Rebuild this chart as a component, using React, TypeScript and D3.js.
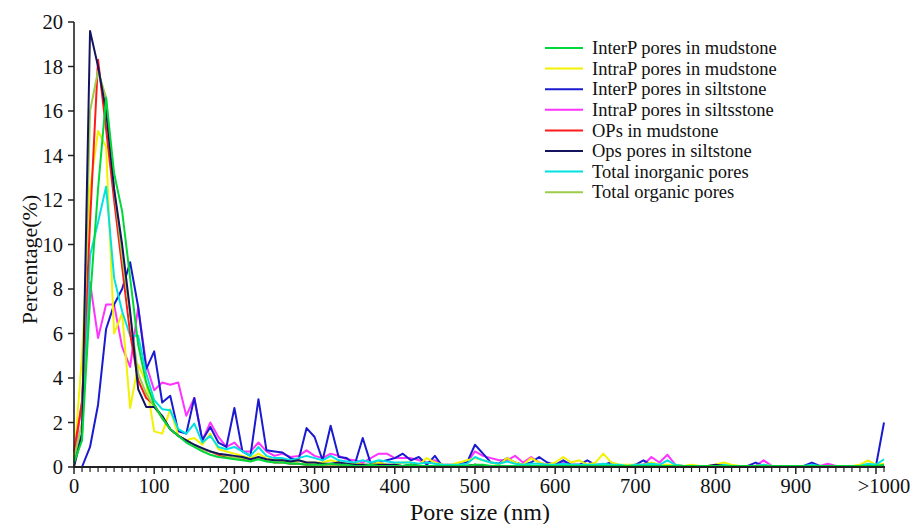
import React from "react";
import * as d3 from "d3";

// Pore size categories (nm): 0..1000 every 10 nm, plus ">1000" placed at 1010
const poreSizes: number[] = d3.range(0, 1011, 10);

const xMajorTicks = [0, 100, 200, 300, 400, 500, 600, 700, 800, 900, 1000];
const xTickLabelValues = [0, 100, 200, 300, 400, 500, 600, 700, 800, 900, 1010];
const xTickLabels = ["0", "100", "200", "300", "400", "500", "600", "700", "800", "900", ">1000"];
const yTicks = [0, 2, 4, 6, 8, 10, 12, 14, 16, 18, 20];

const seriesNames = [
  "InterP pores in mudstone",
  "IntraP pores in mudstone",
  "InterP pores in siltstone",
  "IntraP pores in siltsstone",
  "OPs in mudstone",
  "Ops pores in siltstone",
  "Total inorganic pores",
  "Total organic pores",
];
const seriesColors = ["#00d83a", "#f2f200", "#1a1ad0", "#ff33ff", "#ff1a1a", "#14145e", "#00e2e2", "#9ccc4a"];

const interPMudstone = [
  0.2, 1.2, 7.5, 12.5, 16.6, 13.2, 11.5, 8.5, 5.5, 3.8,
  2.8, 2.2, 1.7, 1.4, 1.1, 0.9, 0.7, 0.55, 0.45, 0.4,
  0.35, 0.3, 0.25, 0.35, 0.25, 0.2, 0.2, 0.15, 0.15, 0.1,
  0.1, 0.1, 0.15, 0.1, 0.1, 0.05, 0.05, 0.1, 0.05, 0.05,
  0.05, 0.05, 0.1, 0.05, 0.05, 0.05, 0.05, 0.05, 0.05, 0.05,
  0.1, 0.1, 0.05, 0.05, 0.05, 0.05, 0.05, 0.05, 0.05, 0.05,
  0.05, 0.05, 0.05, 0.05, 0.05, 0.05, 0.05, 0.05, 0.05, 0.05,
  0.05, 0.05, 0.05, 0.05, 0.05, 0.05, 0.05, 0.05, 0.05, 0.05,
  0.05, 0.05, 0.05, 0.05, 0.05, 0.05, 0.05, 0.05, 0.05, 0.05,
  0.05, 0.05, 0.05, 0.05, 0.05, 0.05, 0.05, 0.05, 0.05, 0.05,
  0.05, 0.1,
];
const intraPMudstone = [
  0.3, 5.0, 12.5, 15.1, 14.4, 6.0, 6.9, 2.65, 4.6, 3.8,
  1.6, 1.5, 2.6, 1.4, 1.2, 1.3, 1.0, 1.5, 0.8, 0.7,
  0.6, 0.5, 0.4, 0.6, 0.4, 0.3, 0.3, 0.2, 0.3, 0.2,
  0.2, 0.2, 0.3, 0.2, 0.1, 0.2, 0.1, 0.1, 0.2, 0.1,
  0.1, 0.2, 0.2, 0.1, 0.4, 0.2, 0.1, 0.1, 0.2, 0.3,
  0.4, 0.3, 0.2, 0.1, 0.4, 0.2, 0.1, 0.4, 0.2, 0.1,
  0.2, 0.45, 0.2, 0.3, 0.1, 0.2, 0.6, 0.2, 0.1, 0.1,
  0.1, 0.1, 0.2, 0.1, 0.1, 0.1, 0.05, 0.1, 0.05, 0.05,
  0.1, 0.2, 0.1, 0.05, 0.05, 0.05, 0.1, 0.05, 0.05, 0.05,
  0.05, 0.05, 0.05, 0.05, 0.05, 0.05, 0.05, 0.05, 0.1, 0.3,
  0.1, 0.15,
];
const interPSiltstone = [
  0, 0, 0.9, 2.8, 6.2, 7.3, 8.0, 9.2, 7.2, 4.4,
  5.2, 2.9, 3.2, 1.6, 1.5, 3.1, 1.2, 1.8, 1.1, 0.9,
  2.65, 0.7, 0.5, 3.05, 0.75, 0.7, 0.65, 0.4, 0.3, 1.75,
  1.35, 0.3, 1.85, 0.45, 0.4, 0.1, 1.3, 0.15, 0.2, 0.3,
  0.4, 0.6, 0.3, 0.45, 0.1, 0.5, 0.0, 0.05, 0.1, 0.2,
  1.0, 0.6, 0.2, 0.15, 0.4, 0.2, 0.1, 0.2, 0.45, 0.2,
  0.1, 0.3, 0.1, 0.1, 0.3, 0.1, 0.1, 0.2, 0.05, 0.05,
  0.1, 0.3, 0.1, 0.05, 0.05, 0.05, 0.05, 0.05, 0.05, 0.05,
  0.05, 0.05, 0.05, 0.05, 0.05, 0.2, 0.05, 0.05, 0.05, 0.05,
  0.05, 0.05, 0.2, 0.05, 0.05, 0.05, 0.05, 0.05, 0.05, 0.05,
  0.05, 2.0,
];
const intraPSiltstone = [
  0.3, 3.0, 8.3, 5.8, 7.3, 7.3, 5.4, 4.5, 7.2, 4.6,
  3.45, 3.8, 3.7, 3.8, 2.3, 3.1, 1.2, 2.0, 1.35, 0.9,
  1.1, 0.7, 0.7, 1.1, 0.7, 0.5, 0.6, 0.45, 0.5, 0.75,
  0.5, 0.4, 0.6, 0.5, 0.35, 0.3, 0.2, 0.4, 0.6, 0.6,
  0.4, 0.4, 0.4, 0.3, 0.2, 0.3, 0.1, 0.1, 0.1, 0.2,
  0.7, 0.5, 0.4, 0.3, 0.3, 0.5, 0.2, 0.45, 0.2, 0.1,
  0.1, 0.2, 0.1, 0.1, 0.1, 0.05, 0.1, 0.1, 0.05, 0.05,
  0.1, 0.1, 0.45, 0.2, 0.55, 0.1, 0.05, 0.05, 0.05, 0.05,
  0.05, 0.05, 0.05, 0.05, 0.05, 0.05, 0.3, 0.05, 0.05, 0.05,
  0.05, 0.05, 0.05, 0.05, 0.15, 0.05, 0.05, 0.05, 0.05, 0.1,
  0.1, 0.1,
];
const opsMudstone = [
  0.7, 2.9, 11.0, 18.3, 15.2, 12.0, 9.0, 6.0, 3.9, 3.1,
  2.8, 2.2, 1.7, 1.4, 1.2, 1.0, 0.8, 0.7, 0.55, 0.45,
  0.4, 0.35, 0.3, 0.4, 0.3, 0.2, 0.2, 0.15, 0.15, 0.1,
  0.1, 0.1, 0.1, 0.1, 0.05, 0.05, 0.1, 0.05, 0.05, 0.05,
  0.05, 0.05, 0.05, 0.05, 0.05, 0.05, 0.05, 0.05, 0.05, 0.05,
  0.1, 0.05, 0.05, 0.05, 0.05, 0.05, 0.05, 0.05, 0.05, 0.05,
  0.05, 0.05, 0.05, 0.05, 0.05, 0.05, 0.05, 0.05, 0.05, 0.05,
  0.05, 0.05, 0.05, 0.05, 0.05, 0.05, 0.05, 0.05, 0.05, 0.05,
  0.05, 0.05, 0.05, 0.05, 0.05, 0.05, 0.05, 0.05, 0.05, 0.05,
  0.05, 0.05, 0.05, 0.05, 0.05, 0.05, 0.05, 0.05, 0.05, 0.05,
  0.05, 0.05,
];
const opsSiltstone = [
  0, 1.5, 19.6, 18.0, 16.0, 12.5, 10.0, 7.0, 3.5, 2.7,
  2.7, 2.3, 1.7, 1.4, 1.2, 1.0, 0.85, 0.7, 0.6, 0.55,
  0.5, 0.45, 0.35, 0.45, 0.35, 0.3, 0.3, 0.25, 0.3, 0.2,
  0.2, 0.15, 0.15, 0.2, 0.15, 0.1, 0.1, 0.1, 0.1, 0.1,
  0.1, 0.05, 0.1, 0.05, 0.05, 0.05, 0.05, 0.05, 0.05, 0.05,
  0.1, 0.05, 0.05, 0.05, 0.05, 0.05, 0.05, 0.05, 0.05, 0.05,
  0.05, 0.05, 0.05, 0.05, 0.05, 0.05, 0.05, 0.05, 0.05, 0.05,
  0.05, 0.05, 0.05, 0.05, 0.05, 0.05, 0.05, 0.05, 0.05, 0.05,
  0.1, 0.05, 0.05, 0.05, 0.05, 0.05, 0.05, 0.05, 0.05, 0.05,
  0.05, 0.05, 0.05, 0.05, 0.05, 0.05, 0.05, 0.05, 0.05, 0.05,
  0.05, 0.05,
];
const totalInorganic = [
  0.2, 1.5, 9.5, 11.0, 12.6, 8.5, 7.0, 5.9, 5.9, 4.2,
  3.0, 2.6, 2.55, 1.7, 1.5, 1.95, 1.1, 1.4, 0.9, 0.8,
  0.9, 0.7, 0.5, 0.9, 0.5, 0.4, 0.4, 0.3, 0.4, 0.5,
  0.4, 0.3, 0.5, 0.3, 0.25, 0.2, 0.3, 0.2, 0.3, 0.25,
  0.2, 0.2, 0.2, 0.15, 0.2, 0.15, 0.1, 0.1, 0.1, 0.15,
  0.45, 0.3, 0.2, 0.15, 0.25, 0.15, 0.1, 0.15, 0.15, 0.1,
  0.1, 0.15, 0.1, 0.1, 0.1, 0.1, 0.15, 0.1, 0.1, 0.05,
  0.1, 0.1, 0.15, 0.1, 0.3, 0.1, 0.05, 0.05, 0.05, 0.05,
  0.05, 0.1, 0.05, 0.05, 0.05, 0.05, 0.1, 0.05, 0.05, 0.05,
  0.05, 0.05, 0.1, 0.05, 0.05, 0.05, 0.05, 0.05, 0.05, 0.15,
  0.1, 0.35,
];
const totalOrganic = [
  0.3, 2.0, 16.0, 17.8, 16.6, 12.5, 9.5, 6.8, 4.2, 3.3,
  2.7, 2.2, 1.7, 1.4, 1.2, 1.0, 0.8, 0.7, 0.6, 0.5,
  0.4, 0.4, 0.3, 0.4, 0.3, 0.25, 0.2, 0.2, 0.15, 0.15,
  0.1, 0.1, 0.1, 0.1, 0.1, 0.05, 0.05, 0.05, 0.05, 0.05,
  0.05, 0.05, 0.05, 0.05, 0.05, 0.05, 0.05, 0.05, 0.05, 0.05,
  0.05, 0.05, 0.05, 0.05, 0.05, 0.05, 0.05, 0.05, 0.05, 0.05,
  0.05, 0.05, 0.05, 0.05, 0.05, 0.05, 0.05, 0.05, 0.05, 0.05,
  0.05, 0.05, 0.05, 0.05, 0.05, 0.05, 0.05, 0.05, 0.05, 0.05,
  0.05, 0.05, 0.05, 0.05, 0.05, 0.05, 0.05, 0.05, 0.05, 0.05,
  0.05, 0.05, 0.05, 0.05, 0.05, 0.05, 0.05, 0.05, 0.05, 0.05,
  0.05, 0.05,
];

const seriesValues = [
  interPMudstone,
  intraPMudstone,
  interPSiltstone,
  intraPSiltstone,
  opsMudstone,
  opsSiltstone,
  totalInorganic,
  totalOrganic,
];
// drawing order (index into series), last is on top
const drawOrder = [3, 2, 1, 6, 4, 7, 5, 0];

const FONT = "'Liberation Serif', 'Times New Roman', serif";

export default function App() {
  const W = 921;
  const H = 524;
  const x = d3.scaleLinear().domain([0, 1010]).range([74, 884]);
  const y = d3.scaleLinear().domain([0, 20]).range([467, 22]);
  const line = d3
    .line<number>()
    .x((_, i) => x(poreSizes[i]))
    .y((d) => y(d));

  const minorTicks = poreSizes.filter((v) => v % 100 !== 0);

  return (
    <svg
      width={W}
      height={H}
      style={{ position: "absolute", left: 0, top: 0, background: "#fff" }}
      fontFamily={FONT}
    >
      <rect width={W} height={H} fill="#fff" />
      {/* series */}
      {drawOrder.map((si) => (
        <path
          key={si}
          d={line(seriesValues[si]) || ""}
          fill="none"
          stroke={seriesColors[si]}
          strokeWidth={2}
          strokeLinejoin="round"
        />
      ))}

      {/* y axis */}
      <line x1={74} x2={74} y1={y(20)} y2={y(0)} stroke="#222" strokeWidth={1.6} />
      {yTicks.map((t) => (
        <g key={t}>
          <line x1={68} x2={74} y1={y(t)} y2={y(t)} stroke="#222" strokeWidth={1.5} />
          <text x={63} y={y(t)} dy="0.35em" textAnchor="end" fontSize={20.5} fill="#111">
            {t}
          </text>
        </g>
      ))}
      <text
        transform={`translate(37, ${(y(0) + y(20)) / 2 + 15}) rotate(-90)`}
        textAnchor="middle"
        fontSize={22}
        fill="#111"
      >
        Percentage(%)
      </text>

      {/* x axis */}
      <line x1={x(0) - 1} x2={x(1010) + 1} y1={467} y2={467} stroke="#222" strokeWidth={1.8} />
      {xMajorTicks.map((t) => (
        <line key={"M" + t} x1={x(t)} x2={x(t)} y1={467} y2={474} stroke="#222" strokeWidth={1.5} />
      ))}
      {minorTicks.map((t) => (
        <line key={"m" + t} x1={x(t)} x2={x(t)} y1={467} y2={472} stroke="#222" strokeWidth={1.2} />
      ))}
      {xTickLabelValues.map((t, i) => (
        <text key={"l" + t} x={x(t)} y={493} textAnchor="middle" fontSize={20.5} fill="#111">
          {xTickLabels[i]}
        </text>
      ))}
      <text x={480} y={520} textAnchor="middle" fontSize={24} fill="#111">
        Pore size (nm)
      </text>

      {/* legend */}
      {seriesNames.map((name, i) => (
        <g key={name} transform={`translate(0, ${48 + i * 20.6})`}>
          <line x1={545} x2={583} y1={0} y2={0} stroke={seriesColors[i]} strokeWidth={2} />
          <text x={592} y={0} dy="0.33em" fontSize={18.5} fill="#111">
            {name}
          </text>
        </g>
      ))}
    </svg>
  );
}
